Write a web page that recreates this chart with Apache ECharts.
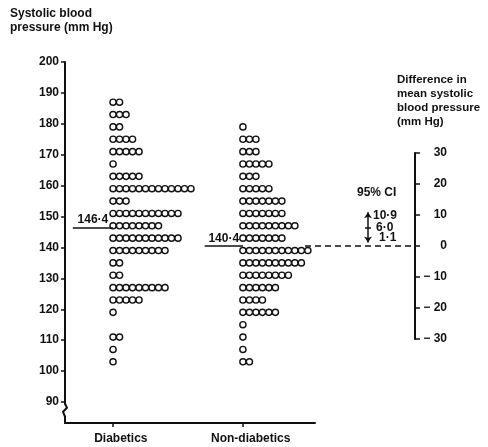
<!DOCTYPE html>
<html>
<head>
    <meta charset="UTF-8">
    <title>Systolic blood pressure</title>
    <style>
        *{
            margin: 0;
            padding: 0;
        }
        .container{
            width: 488px;
            height: 447px;
            background: #fff;
        }
    </style>
    <script src="https://cdn.jsdelivr.net/npm/echarts@6/dist/echarts.min.js"></script>
</head>
<body>
<div class="container"></div>
<script>
    // data (rows are 4 mm Hg bins)
    const groups = ['Diabetics', 'Non-diabetics'];
    const diabBp = [187, 183, 179, 175, 171, 167, 163, 159, 155, 151, 147, 143, 139, 135, 131, 127, 123, 119, 111, 107, 103];
    const diabCount = [2, 3, 2, 4, 5, 1, 5, 13, 3, 11, 8, 11, 9, 2, 2, 9, 5, 1, 2, 1, 1];
    const nonBp = [179, 175, 171, 167, 163, 159, 155, 151, 147, 143, 139, 135, 131, 127, 123, 119, 115, 111, 107, 103];
    const nonCount = [1, 3, 3, 5, 3, 5, 7, 7, 9, 7, 11, 10, 8, 6, 4, 6, 1, 1, 1, 2];
    const means = [146.4, 140.4];
    const meanLabels = ['146·4', '140·4'];
    const ciValues = [10.9, 6.0, 1.1];
    const ciLabels = ['10·9', '6·0', '1·1'];
    const leftTicks = [90, 100, 110, 120, 130, 140, 150, 160, 170, 180, 190, 200];

    const FONT = '"Liberation Sans", Arial, sans-serif';
    const INK = '#111';
    const groupStart = [7.4, 27.4];   // first dot column of each group (x units = one dot)
    const lineStart = [1.2, 21.5];

    function dots(bp, count, start) {
        let pts = [];
        bp.forEach((v, r) => {
            for (let i = 0; i < count[r]; i++) pts.push([start + i, v]);
        });
        return pts;
    }

    function meanLine(k) {
        return {
            silent: true,
            symbol: 'none',
            lineStyle: {color: INK, width: 1.5, type: 'solid'},
            label: {
                show: true, position: 'insideMiddleTop', distance: 2,
                formatter: meanLabels[k], color: INK,
                fontFamily: FONT, fontWeight: 'bold', fontSize: 12
            },
            data: [[{coord: [lineStart[k], means[k]]}, {coord: [groupStart[k], means[k]]}]]
        };
    }

    let mychart = echarts.init(document.querySelector('.container'));
    let dotStyle = {color: '#fff', borderColor: INK, borderWidth: 1.4, opacity: 1};

    let option = {
        animation: false,
        backgroundColor: '#fff',
        textStyle: {fontFamily: FONT},
        grid: [
            {left: 65, top: 62, width: 250, height: 361},
            {left: 300, top: 153, width: 115, height: 186}
        ],
        xAxis: [{
            gridIndex: 0, type: 'value', min: 0, max: 38.5,
            splitLine: {show: false},
            axisLine: {lineStyle: {color: INK, width: 2}},
            axisTick: {show: true, customValues: groupStart, length: 4, lineStyle: {color: INK, width: 1.5}},
            axisLabel: {
                customValues: groupStart.map(v => v + 1.2),
                formatter: v => groups[Math.abs(v - groupStart[0] - 1.2) < 1 ? 0 : 1],
                color: INK, fontFamily: FONT, fontWeight: 'bold', fontSize: 12, margin: 10
            }
        }, {
            gridIndex: 1, type: 'value', min: 0, max: 115, show: false
        }],
        yAxis: [{
            gridIndex: 0, type: 'value', min: 83.2, max: 200,
            splitLine: {show: false},
            axisLine: {show: true, onZero: false, lineStyle: {color: INK, width: 2}},
            axisTick: {show: true, customValues: leftTicks, length: 4, lineStyle: {color: INK, width: 1.5}},
            axisLabel: {
                customValues: leftTicks, color: INK, margin: 6,
                fontFamily: FONT, fontWeight: 'bold', fontSize: 12
            }
        }, {
            gridIndex: 1, type: 'value', min: -30, max: 30, interval: 10, position: 'right',
            splitLine: {show: false},
            axisLine: {show: true, onZero: false, lineStyle: {color: INK, width: 2}},
            axisTick: {show: true, length: 5, lineStyle: {color: INK, width: 1.5}},
            axisLabel: {
                align: 'right', margin: 32, color: INK,
                fontFamily: FONT, fontWeight: 'bold', fontSize: 12,
                formatter: v => v < 0 ? '\u2212 ' + Math.abs(v) : String(v)
            }
        }],
        series: [{
            type: 'scatter', xAxisIndex: 0, yAxisIndex: 0, silent: true,
            symbol: 'circle', symbolSize: 6.2, itemStyle: dotStyle,
            data: dots(diabBp, diabCount, groupStart[0]),
            markLine: meanLine(0)
        }, {
            type: 'scatter', xAxisIndex: 0, yAxisIndex: 0, silent: true,
            symbol: 'circle', symbolSize: 6.2, itemStyle: dotStyle,
            data: dots(nonBp, nonCount, groupStart[1]),
            markLine: meanLine(1)
        }, {
            // confidence interval on the difference axis
            type: 'scatter', xAxisIndex: 1, yAxisIndex: 1, silent: true,
            symbolSize: 0, itemStyle: {opacity: 1},
            data: ciValues.map((v, i) => ({
                value: [72 + i * 3, v],
                label: {offset: [0, i == 0 ? 3 : (i == 2 ? -5 : 0)]}
            })),
            label: {
                show: true, position: 'right', distance: 1,
                formatter: p => ciLabels[p.dataIndex],
                color: INK, fontFamily: FONT, fontWeight: 'bold', fontSize: 12
            },
            markLine: {
                silent: true,
                symbol: 'none',
                lineStyle: {color: INK, width: 1.5, type: 'solid'},
                label: {show: false},
                data: [
                    [{coord: [68, ciValues[2]], symbol: 'arrow', symbolSize: [6, 6]},
                     {coord: [68, ciValues[0]], symbol: 'arrow', symbolSize: [6, 6]}],
                    [{coord: [65, ciValues[1]]}, {coord: [71, ciValues[1]]}],
                    [{coord: [5, 0], lineStyle: {type: [6, 4]}}, {coord: [115, 0]}]
                ]
            }
        }]
    };
    mychart.setOption(option);

    // texts and the break on the left axis
    let xb = mychart.convertToPixel({xAxisIndex: 0}, 0);
    let yb = mychart.convertToPixel({yAxisIndex: 0}, 88.8);
    mychart.setOption({
        graphic: [{
            id: 'leftTitle', type: 'text', left: 10, top: 7,
            style: {
                text: 'Systolic blood\npressure (mm Hg)', fill: INK,
                font: 'bold 12px ' + FONT, lineHeight: 14
            }
        }, {
            id: 'rightTitle', type: 'text', left: 397, top: 73,
            style: {
                text: 'Difference in\nmean systolic\nblood pressure\n(mm Hg)', fill: INK,
                font: 'bold 11.5px ' + FONT, lineHeight: 14
            }
        }, {
            id: 'ci', type: 'text', left: 357, top: 187,
            style: {text: '95% CI', fill: INK, font: 'bold 12px ' + FONT}
        }, {
            id: 'breakMask', type: 'rect', shape: {x: xb - 4, y: yb - 1, width: 8, height: 11},
            style: {fill: '#fff'}, z: 100
        }, {
            id: 'breakMark', type: 'polyline', z: 101,
            shape: {points: [[xb, yb - 2], [xb + 2, yb + 2], [xb - 2, yb + 6], [xb, yb + 11]]},
            style: {stroke: INK, lineWidth: 2, fill: null}
        }]
    });
</script>
</body>
</html>
